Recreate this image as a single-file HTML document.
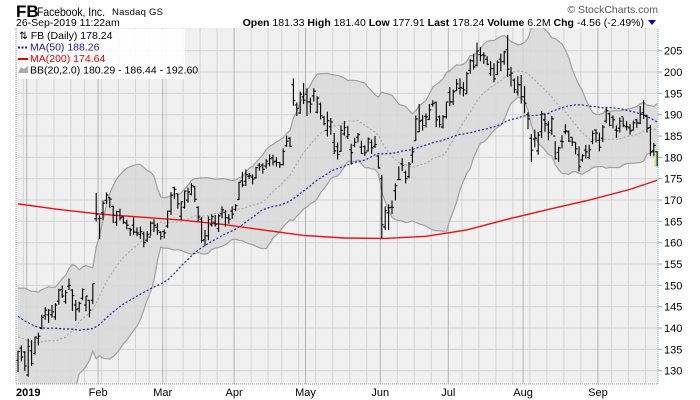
<!DOCTYPE html>
<html><head><meta charset="utf-8">
<style>
html,body{margin:0;padding:0;background:#fff;}
body{width:700px;height:400px;overflow:hidden;font-family:"Liberation Sans",sans-serif;position:relative;}
svg{position:absolute;left:0;top:0;}
</style></head>
<body>
<svg id="chart" width="700" height="400" viewBox="0 0 700 400" xmlns="http://www.w3.org/2000/svg" font-family="Liberation Sans, sans-serif">
  <text x="16" y="17" font-size="17" font-weight="bold" fill="#000">FB</text>
  <text x="37" y="16" font-size="12" fill="#000" textLength="68" lengthAdjust="spacingAndGlyphs">Facebook, Inc.</text>
  <text x="112" y="15" font-size="9.5" fill="#000" textLength="51" lengthAdjust="spacing">Nasdaq GS</text>
  <text x="16" y="26" font-size="10.5" fill="#000">26-Sep-2019 11:22am</text>
  <text x="658" y="13" font-size="10.5" fill="#555" text-anchor="end">© StockCharts.com</text>
  <text x="644" y="26" font-size="10.5" fill="#000" text-anchor="end"><tspan font-weight="bold">Open</tspan> 181.33 <tspan font-weight="bold">High</tspan> 181.40 <tspan font-weight="bold">Low</tspan> 177.91 <tspan font-weight="bold">Last</tspan> 178.24 <tspan font-weight="bold">Volume</tspan> 6.2M <tspan font-weight="bold">Chg</tspan> -4.56 (-2.49%)</text>
  <polygon points="648,20 656,20 652,25" fill="#0000dd"/>
  <g id="plot"></g>
</svg>
<script>
const priorCloses=[159.0,159.4,154.9,154.1,154.8,154.4,145.4,150.95,145.4,142.1,146.2,151.8,
151.8,150.35,148.7,149.9,151.75,150.3,144.96,141.55,142.2,144.2,143.85,139.5,131.55,132.4,134.0,131.7,136.4,135.0,136.8,138.7,140.6,
141.1,137.9,139.6,137.4,141.85,142.1,144.5,145.2,144.06,140.2,143.7,133.2,133.4,124.95,124.06,134.18];
const opens=[132.4,135.3,134.4,
128.99,134.7,134.0,137.6,139.9,142.9,143.1,143.1,142.6,146.3,149.0,146.2,149.8,148.9,145.4,144.6,147.0,145.4,146.5,146.5,165.6,
165.6,167.0,169.9,170.6,168.5,164.8,167.3,166.0,164.6,163.3,164.1,162.5,161.9,162.1,160.6,161.3,164.6,163.6,162.4,
162.6,163.9,167.4,172.9,171.5,166.2,168.3,170.0,171.4,173.1,168.3,165.5,160.7,161.6,164.2,164.8,163.3,166.8,167.1,165.8,167.4,
167.8,170.1,174.5,174.4,175.6,175.4,175.2,178.2,178.2,178.0,178.5,179.9,179.1,178.8,178.3,182.7,184.5,197.0,192.3,190.4,194.2,
194.8,193.0,194.4,190.6,192.5,189.4,186.3,187.2,183.5,182.5,181.4,185.5,184.8,181.8,182.8,184.7,182.4,182.5,181.5,183.5,182.6,180.3,
175.0,163.7,167.0,168.3,172.2,174.8,178.5,176.5,175.5,180.5,183.9,186.0,188.7,189.6,188.9,192.4,192.9,189.5,187.1,189.5,
195.2,193.0,195.6,196.2,196.2,194.9,200.4,202.6,201.6,204.1,204.1,203.0,199.6,200.8,199.4,203.0,202.5,205.2,199.3,198.1,195.3,197.0,
194.2,190.0,184.5,184.3,181.5,186.0,188.8,187.6,186.3,185.0,181.1,183.8,186.0,186.0,184.7,183.5,180.6,179.4,181.7,180.0,183.7,186.4,
184.0,184.5,188.5,190.2,189.4,186.4,186.8,189.5,187.2,186.9,186.4,188.8,188.0,190.5,189.6,187.0,181.5,181.33];
const highs=[134.7,135.9,134.6,
137.5,137.2,138.0,138.9,143.1,144.9,144.4,145.4,145.8,149.2,150.0,148.9,151.6,149.1,146.6,146.2,149.3,147.5,146.5,150.4,171.7,
166.4,169.9,171.8,170.7,168.7,167.5,168.0,166.2,165.4,163.5,165.9,163.6,163.8,162.6,162.7,165.0,165.5,164.6,162.7,
163.1,167.5,171.9,173.1,171.5,169.7,172.2,172.9,173.9,173.3,168.5,166.0,163.0,166.2,166.6,166.5,166.7,168.5,167.7,166.7,168.5,
169.0,174.3,176.6,177.2,176.4,176.0,177.8,178.7,178.6,179.6,180.7,180.6,180.1,178.9,182.1,185.1,184.8,198.5,192.9,195.4,197.4,
196.2,194.0,196.2,194.3,192.9,189.7,190.7,189.2,185.7,183.5,187.5,188.5,187.4,183.2,184.6,185.7,183.9,182.8,184.7,184.2,185.0,180.5,
175.9,168.5,169.0,169.9,173.9,177.9,179.8,176.9,178.9,182.5,189.8,192.5,190.0,190.3,192.5,193.4,193.1,189.8,189.9,193.0,
196.5,195.9,198.4,198.5,197.7,200.0,203.0,204.3,206.9,205.8,204.6,203.7,202.6,202.1,202.7,204.3,205.0,208.7,201.2,198.5,199.0,199.3,
196.7,190.6,185.5,186.5,186.0,190.9,190.3,188.5,189.7,183.8,182.5,185.2,187.8,186.3,184.7,183.5,182.6,180.7,182.9,183.0,186.3,186.6,
185.8,187.6,191.8,190.5,189.8,187.5,189.3,189.3,188.5,187.8,188.6,189.0,192.0,193.4,190.0,187.6,183.4,181.4];
const lows=[129.7,132.2,129.95,
128.6,131.1,133.8,135.9,139.7,141.9,141.2,142.4,141.9,145.5,147.1,145.7,148.9,144.0,141.7,143.7,146.5,143.9,142.5,145.6,165.0,
160.9,165.3,169.1,168.2,164.6,163.9,165.2,164.4,163.1,161.6,161.9,161.5,160.9,158.9,160.2,161.5,162.5,161.8,160.7,
161.0,163.5,166.5,170.2,168.0,165.3,168.0,169.4,171.1,169.5,165.0,160.0,159.3,160.6,163.8,163.8,162.5,165.7,163.8,164.4,165.6,
167.4,170.0,173.0,173.3,174.9,173.7,175.0,176.9,176.2,177.4,177.9,178.1,177.8,177.5,178.1,182.5,182.4,192.1,189.7,190.2,192.5,
189.7,190.3,193.1,190.3,188.9,187.5,184.9,185.3,180.8,179.5,181.3,185.1,184.3,178.3,182.4,183.5,180.8,180.3,181.4,180.8,182.2,177.4,
161.0,163.0,163.0,166.7,169.9,174.7,176.8,173.9,175.1,178.7,183.9,185.9,186.3,187.0,188.8,191.9,187.1,187.0,186.8,189.1,
192.0,192.3,195.6,194.7,194.3,194.9,199.6,200.6,201.3,202.5,201.9,201.6,199.1,197.6,199.3,200.2,201.7,198.8,196.6,195.1,194.5,192.6,
190.3,186.6,178.9,182.3,180.6,184.5,186.0,184.0,185.2,179.5,178.9,182.1,185.4,183.6,182.7,180.7,176.7,178.9,179.7,179.6,183.1,183.5,
181.4,183.6,188.0,187.3,186.8,184.6,185.8,187.1,186.3,185.3,186.3,186.9,187.8,189.0,185.8,180.3,180.3,177.91];
const closes=[134.5,133.2,131.1,
135.7,131.7,137.9,138.1,142.5,144.2,144.2,143.8,145.4,148.9,147.5,148.3,150.0,147.6,144.3,145.8,149.0,147.5,144.2,150.4,166.7,
165.7,169.25,171.2,170.2,166.4,167.3,165.8,164.8,164.1,163.0,162.5,162.3,162.6,160.0,161.9,164.6,164.1,162.8,161.45,
162.3,167.4,171.1,172.5,169.1,169.6,172.1,171.9,173.4,170.2,166.0,160.5,161.6,165.4,166.1,164.3,166.3,167.7,165.9,165.5,166.7,
168.7,174.2,173.5,176.0,175.7,174.9,177.6,177.8,177.2,179.1,179.7,178.9,178.8,178.3,181.4,183.8,182.6,193.3,191.5,194.8,193.4,
193.0,192.5,195.5,193.9,189.8,187.9,188.6,188.3,181.5,180.7,186.3,187.0,185.3,181.1,183.5,185.3,180.9,181.1,184.3,182.2,183.0,177.5,
164.2,167.5,168.2,168.3,173.4,174.8,178.1,175.0,178.4,181.3,189.0,188.5,187.5,189.5,191.1,192.6,188.8,187.7,189.5,193.0,
193.0,195.4,197.2,196.4,195.8,199.6,202.7,201.2,204.9,203.9,203.8,201.8,200.8,198.4,202.3,202.4,204.7,200.7,199.75,195.9,197.0,194.2,
192.7,189.0,181.7,184.5,185.2,190.2,187.9,185.8,189.0,179.7,182.2,183.7,186.2,183.8,183.6,182.0,177.8,180.4,181.3,181.8,185.6,185.7,
182.4,187.1,190.9,187.5,188.8,186.2,188.5,187.5,187.2,186.2,188.1,188.1,190.1,189.9,186.8,181.3,182.8,178.24];
const ma200Idx=[0,12,24,36,48,60,72,84,96,108,120,132,144,156,168,180,188];
const ma200Val=[169.1,167.8,166.7,166.0,165.3,164.3,163.0,161.7,161.1,161.0,161.5,163.0,165.5,167.8,170.0,172.5,174.64];
const yTicks=[130,135,140,145,150,155,160,165,170,175,180,185,190,195,200,205];
const monthLabels=["2019","Feb","Mar","Apr","May","Jun","Jul","Aug","Sep"];

const PL=16,PR=658,PT=28,PB=384;
const X0=18,DX=3.4;
function xs(i){return X0+i*DX;}
function ys(v){return 50.7+(205-v)*4.2667;}
const NS="http://www.w3.org/2000/svg";
const plot=document.getElementById('plot');
function mk(tag,attrs,parent){const e=document.createElementNS(NS,tag);for(const k in attrs)e.setAttribute(k,attrs[k]);(parent||plot).appendChild(e);return e;}

const hol=["2019-01-01","2019-01-21","2019-02-18","2019-04-19","2019-05-27","2019-07-04","2019-09-02"];
const dates=[];
let d=new Date(Date.UTC(2018,11,27));
while(dates.length<closes.length){const wd=d.getUTCDay();const s=d.toISOString().slice(0,10);if(wd>0&&wd<6&&hol.indexOf(s)<0)dates.push(new Date(d));d=new Date(d.getTime()+86400000);}
const monthStarts=[],weekStarts=[];
for(let i=1;i<dates.length;i++){
  if(dates[i].getUTCMonth()!==dates[i-1].getUTCMonth())monthStarts.push(i);
  else if(dates[i].getUTCDay()<dates[i-1].getUTCDay())weekStarts.push(i);
}

const bg=mk('rect',{x:PL,y:PT,width:PR-PL,height:PB-PT,fill:'#f0f0f0'});


const clip=mk('clipPath',{id:'pc'});mk('rect',{x:PL,y:PT,width:PR-PL,height:PB-PT},clip);

yTicks.forEach(v=>{
  const g=mk('line',{x1:PL,x2:PR,y1:ys(v),y2:ys(v),stroke:'#d4d4d4','stroke-width':1});
  
  
  const t=mk('text',{x:PR+6,y:ys(v)+4,'font-size':11,fill:'#000'});
  t.textContent=v;
  
  
  mk('line',{x1:PR,x2:PR+4,y1:ys(v),y2:ys(v),stroke:'#8aa'});
});
weekStarts.forEach(i=>{
  const g=mk('line',{x1:xs(i)-1.5,x2:xs(i)-1.5,y1:PT,y2:PB,stroke:'#d4d4d4'});
  
  
});
monthStarts.forEach((i,k)=>{
  const g=mk('line',{x1:xs(i)-1.5,x2:xs(i)-1.5,y1:PT,y2:PB,stroke:'#b4b4b4'});
  
  
  if(k===0)return;
  const t=mk('text',{x:xs(i)-1.5,y:396,'font-size':11,fill:'#000','text-anchor':'middle'});
  t.textContent=monthLabels[k];
  
  
});
const yr=mk('text',{x:16,y:396,'font-size':11,'font-weight':'bold',fill:'#000'});
yr.textContent=monthLabels[0];



const all=priorCloses.concat(closes);const off=priorCloses.length;
const mid=[],up=[],lo=[],ma50=[];
for(let i=0;i<closes.length;i++){
  const j=i+off;const w=all.slice(j-19,j+1);const m=w.reduce((a,b)=>a+b,0)/20;
  const sd=Math.sqrt(w.reduce((a,b)=>a+(b-m)*(b-m),0)/20);
  mid.push(m);up.push(m+2*sd);lo.push(m-2*sd);
  const w5=all.slice(Math.max(0,j-49),j+1);ma50.push(w5.reduce((a,b)=>a+b,0)/w5.length);
}
const g=mk('g',{'clip-path':'url(#pc)'});
let pts=up.map((v,i)=>xs(i)+','+ys(v)).join(' ')+' '+lo.map((v,i)=>xs(i)+','+ys(v)).reverse().join(' ');
const band=mk('polygon',{points:pts,fill:'#d8d8d8','fill-opacity':0.85,stroke:'none'},g);


const bu=mk('polyline',{points:up.map((v,i)=>xs(i)+','+ys(v)).join(' '),fill:'none',stroke:'#a0a0a0','stroke-width':1.2},g);


const bl=mk('polyline',{points:lo.map((v,i)=>xs(i)+','+ys(v)).join(' '),fill:'none',stroke:'#a0a0a0','stroke-width':1.2},g);


const bm=mk('polyline',{points:mid.map((v,i)=>xs(i)+','+ys(v)).join(' '),fill:'none',stroke:'#aaa','stroke-width':1.2,'stroke-dasharray':'2,2'},g);


const m5=mk('polyline',{points:ma50.map((v,i)=>xs(i)+','+ys(v)).join(' '),fill:'none',stroke:'#1a1a9a','stroke-width':1.2,'stroke-dasharray':'2,2'},g);


const m2=mk('polyline',{points:ma200Idx.map((ix,k)=>xs(ix)+','+ys(ma200Val[k])).join(' '),fill:'none',stroke:'#ee1111','stroke-width':1.4},g);



const last=closes.length-1;
const hl=mk('rect',{x:xs(last)-3,y:ys(highs[last])-1,width:6,height:ys(lows[last])-ys(highs[last])+2,fill:'#bff0a0'},g);



for(let i=0;i<closes.length;i++){
  const x=xs(i);
  const b=mk('path',{d:`M${x} ${ys(highs[i])}V${ys(lows[i])}M${x-2} ${ys(opens[i])}H${x}M${x} ${ys(closes[i])}H${x+2}`,stroke:'#000','stroke-width':1.1,fill:'none'},g);
  
  
}
const ax=mk('path',{d:`M${PL} ${PT}V${PB}H${PR}V${PT}`,fill:'none',stroke:'#8aa','stroke-width':1,'stroke-dasharray':'1,1'});



const lg=mk('g',{});


mk('rect',{x:PL+1,y:PT+1,width:168,height:50,fill:'#fff','fill-opacity':0.9},lg);
const items=[["⇅ FB (Daily) 178.24","#000"],["MA(50) 188.26","#1a1a9a"],["MA(200) 174.64","#e00"],["BB(20,2.0) 180.29 - 186.44 - 192.60","#000"]];
items.forEach((it,k)=>{
  const t=mk('text',{x:k==0?19:30,y:PT+11+k*11.5,'font-size':10.5,fill:it[1]},lg);
  t.textContent=it[0];
  
  
});
mk('line',{x1:18,x2:28,y1:PT+19.5,y2:PT+19.5,stroke:'#1a1a9a','stroke-width':2,'stroke-dasharray':'2,1.5'},lg);
mk('line',{x1:18,x2:28,y1:PT+31,y2:PT+31,stroke:'#e00','stroke-width':2},lg);
mk('polygon',{points:'18,73 21,67 24,69 28,66 28,73',fill:'#aaa'},lg);
</script>
</body></html>
